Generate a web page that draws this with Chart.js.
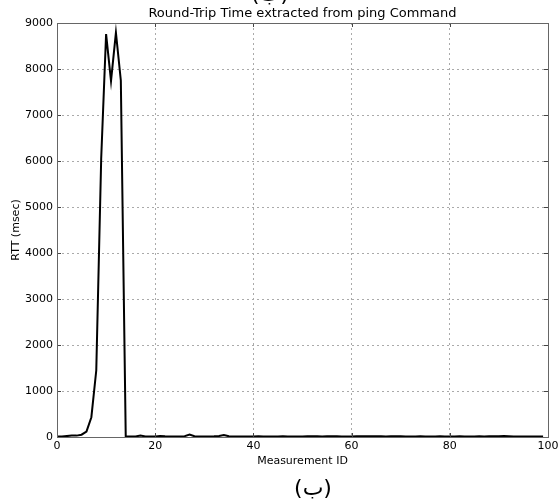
<!DOCTYPE html>
<html>
<head>
<meta charset="utf-8">
<script src="https://cdn.jsdelivr.net/npm/chart.js@4"></script>
<style>
    body { margin: 0; background: #fff; }
    #wrap { position: relative; width: 558px; height: 504px; overflow: hidden; }
    #topText { position: absolute; top: -19px; left: 250px; width: 40px; text-align: center;
               font: 22px "DejaVu Sans"; color: #000; }
    #title { position: absolute; top: 5px; left: 57px; width: 491px; text-align: center;
             font: 13px "DejaVu Sans"; color: #000; }
    #caption { position: absolute; top: 475px; left: 283px; width: 60px; text-align: center;
               font: 22px "DejaVu Sans"; color: #000; }
</style>
</head>
<body>
<div id="wrap">
    <canvas id="rttChart" width="558" height="504"></canvas>
    <div id="topText">(ب)</div>
    <div id="title">Round-Trip Time extracted from ping Command</div>
    <div id="caption">(ب)</div>
</div>
<script>
const measurementIds = [
    0, 1, 2, 3, 4, 5, 6, 7, 8, 9,
    10, 11, 12, 13, 14, 15, 16, 17, 18, 19,
    20, 21, 22, 23, 24, 25, 26, 27, 28, 29,
    30, 31, 32, 33, 34, 35, 36, 37, 38, 39,
    40, 41, 42, 43, 44, 45, 46, 47, 48, 49,
    50, 51, 52, 53, 54, 55, 56, 57, 58, 59,
    60, 61, 62, 63, 64, 65, 66, 67, 68, 69,
    70, 71, 72, 73, 74, 75, 76, 77, 78, 79,
    80, 81, 82, 83, 84, 85, 86, 87, 88, 89,
    90, 91, 92, 93, 94, 95, 96, 97, 98, 99
];
const rttValues = [
    10, 12, 20, 30, 30, 50, 120, 430, 1450, 6050,
    8760, 7740, 8790, 7750, 12, 10, 12, 32, 12, 10,
    12, 22, 14, 12, 10, 12, 18, 52, 16, 12,
    10, 12, 14, 22, 42, 16, 12, 12, 10, 12,
    12, 14, 12, 10, 10, 12, 14, 12, 12, 10,
    12, 14, 16, 14, 12, 14, 16, 14, 12, 10,
    12, 14, 16, 14, 16, 18, 14, 12, 14, 16,
    14, 12, 10, 12, 14, 12, 10, 12, 14, 12,
    10, 12, 14, 12, 10, 12, 14, 12, 14, 16,
    18, 22, 16, 12, 10, 12, 10, 12, 10, 10
];
const xTicks = [0, 20, 40, 60, 80, 100];
const yTicks = [0, 1000, 2000, 3000, 4000, 5000, 6000, 7000, 8000, 9000];

const points = measurementIds.map((id, i) => ({ x: id, y: rttValues[i] }));

// Box around the plot area plus inward tick marks (matplotlib classic look)
const frameAndTicks = {
    id: 'frameAndTicks',
    afterDatasetsDraw(chart) {
        const { ctx, chartArea: a, scales } = chart;
        ctx.save();
        ctx.strokeStyle = '#444';
        ctx.lineWidth = 1;
        ctx.beginPath();
        xTicks.forEach(v => {
            const px = Math.round(scales.x.getPixelForValue(v)) + 0.5;
            ctx.moveTo(px, a.bottom); ctx.lineTo(px, a.bottom - 4);
            ctx.moveTo(px, a.top); ctx.lineTo(px, a.top + 4);
        });
        yTicks.forEach(v => {
            const py = Math.round(scales.y.getPixelForValue(v)) + 0.5;
            ctx.moveTo(a.left, py); ctx.lineTo(a.left + 4, py);
            ctx.moveTo(a.right, py); ctx.lineTo(a.right - 4, py);
        });
        ctx.stroke();
        ctx.strokeStyle = '#666';
        ctx.strokeRect(Math.round(a.left) + 0.5, Math.round(a.top) + 0.5,
                       Math.round(a.right - a.left), Math.round(a.bottom - a.top));
        ctx.restore();
    }
};

const ctx = document.getElementById('rttChart').getContext('2d');
new Chart(ctx, {
    type: 'line',
    data: {
        datasets: [{
            data: points,
            borderColor: '#000',
            borderWidth: 2,
            pointRadius: 0,
            tension: 0,
            fill: false
        }]
    },
    options: {
        responsive: false,
        animation: false,
        layout: { padding: { left: 0, right: 10, top: 23, bottom: 0 } },
        plugins: {
            legend: { display: false },
            tooltip: { enabled: false }
        },
        scales: {
            x: {
                type: 'linear',
                min: 0,
                max: 100,
                afterBuildTicks: s => { s.ticks = xTicks.map(v => ({ value: v })); },
                afterFit: s => { s.height = 67; s.paddingRight = 0; },
                ticks: {
                    color: '#000', font: { family: 'DejaVu Sans', size: 11 }, padding: 3, maxRotation: 0,
                    callback: v => String(v)
                },
                grid: { color: '#aaa', drawTicks: false },
                border: { display: false, dash: [2, 3] },
                title: {
                    display: true,
                    text: 'Measurement ID',
                    color: '#000',
                    font: { family: 'DejaVu Sans', size: 11 },
                    padding: { top: 0, bottom: 36 }
                }
            },
            y: {
                min: 0,
                max: 9000,
                afterBuildTicks: s => { s.ticks = yTicks.map(v => ({ value: v })); },
                afterFit: s => { s.width = 57; },
                ticks: {
                    color: '#000', font: { family: 'DejaVu Sans', size: 11 }, padding: 4,
                    callback: v => String(v)
                },
                grid: { color: '#aaa', drawTicks: false },
                border: { display: false, dash: [2, 3] },
                title: {
                    display: true,
                    text: 'RTT (msec)',
                    color: '#000',
                    font: { family: 'DejaVu Sans', size: 11 },
                    padding: { top: 10, bottom: 0 }
                }
            }
        }
    },
    plugins: [frameAndTicks]
});
</script>
</body>
</html>
